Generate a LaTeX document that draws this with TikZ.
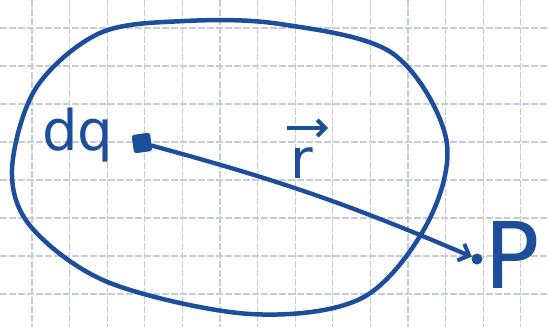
\documentclass[tikz,border=0pt]{standalone}
\usepackage{fontspec}
\newfontfamily\handfont{DejaVu Sans}
\usetikzlibrary{arrows.meta}
\definecolor{ink}{RGB}{28,78,155}
\definecolor{gridcol}{RGB}{200,204,215}
\tikzset{
  gridline/.style={draw=gridcol, line width=1.2pt, dash pattern=on 7pt off 2pt},
  curve/.style   ={draw=ink, line width=4.5pt, line cap=round, line join=round},
  charge/.style  ={rectangle, rounded corners=2pt, fill=ink, draw=ink, line width=1.5pt,
                   minimum size=17pt, inner sep=0pt, rotate=8},
  dotpt/.style   ={circle, fill=ink, minimum size=11pt, inner sep=0pt},
  lbl/.style     ={text=ink, inner sep=0pt},
  flow/.style    ={draw=ink, line width=4.3pt, line cap=round,
                   -{Straight Barb[length=9pt, width=18pt, line width=4pt]}},
  vecbar/.style  ={draw=ink, line width=4.5pt,
                   -{Straight Barb[length=8pt, width=16pt, line width=4pt]}},
}

\begin{document}
\begin{tikzpicture}[x=1pt, y=-1pt]
  \useasboundingbox (0,0) rectangle (549,327);
  \fill[white] (0,0) rectangle (549,327);

  % squared paper
  \foreach \i in {0,...,13}
    \draw[gridline] ({32+37.6*\i},0) -- ({32+37.6*\i},327);
  \foreach \j in {0,...,7}
    \draw[gridline] (0,{28+38*\j}) -- (549,{28+38*\j});

  % charged body
  \draw[curve] plot[smooth cycle, tension=0.55] coordinates {
    (12,170) (36,88) (100,33) (185,21) (280,24) (392,53) (446,138) (428,222)
    (362,298) (250,314) (110,283) (32,228)};

  \node[charge] (dq) at (142,143) {};
  \node[dotpt] (P) at (477,259) {};

  \node[lbl, anchor=base west, font=\handfont\fontsize{56}{56}\selectfont] (dqlbl) at (42,150) {dq};
  \node[lbl, anchor=base west, font=\handfont\fontsize{55}{55}\selectfont] (rlbl) at (290,178) {r};
  \node[lbl, anchor=base west, font=\handfont\fontsize{92}{92}\selectfont] (Plbl) at (484,288) {P};

  \draw[vecbar] ([shift={(-3,-50)}]rlbl.base west) -- ++(41,0);
  \draw[flow] (dq) to[bend left=4] (P);
\end{tikzpicture}
\end{document}
